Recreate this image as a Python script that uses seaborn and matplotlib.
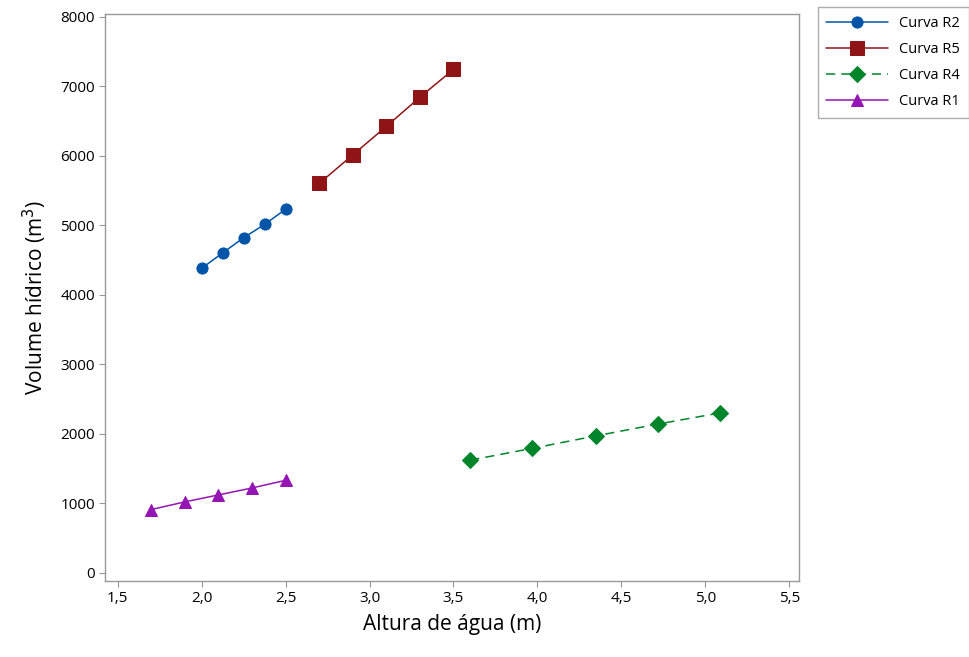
import pandas as pd
import seaborn as sns
import matplotlib.pyplot as plt
from matplotlib.ticker import FuncFormatter

# Curve data
r2_altura = [2.0, 2.125, 2.25, 2.375, 2.5]
r2_volume = [4380, 4600, 4820, 5010, 5230]
r5_altura = [2.7, 2.9, 3.1, 3.3, 3.5]
r5_volume = [5600, 6010, 6420, 6840, 7240]
r4_altura = [3.6, 3.97, 4.35, 4.72, 5.09]
r4_volume = [1620, 1790, 1970, 2140, 2300]
r1_altura = [1.7, 1.9, 2.1, 2.3, 2.5]
r1_volume = [910, 1020, 1120, 1220, 1330]

sns.set_style("white")
plt.rcParams['font.family'] = ['Open Sans', 'DejaVu Sans']
plt.rcParams['text.color'] = 'black'
plt.rcParams['axes.labelcolor'] = 'black'
plt.rcParams['xtick.color'] = 'black'
plt.rcParams['ytick.color'] = 'black'

fig = plt.figure(figsize=(9.7, 6.57), dpi=100)
ax = fig.add_axes([0.108, 0.116, 0.716, 0.862])

curvas = [
    ("Curva R2", r2_altura, r2_volume, "#0055A8", "o", 8, "-"),
    ("Curva R5", r5_altura, r5_volume, "#8E1416", "s", 10, "-"),
    ("Curva R4", r4_altura, r4_volume, "#00852B", "D", 8, (0, (6, 4))),
    ("Curva R1", r1_altura, r1_volume, "#9414B4", "^", 9, "-"),
]

for nome, xs, ys, cor, mk, ms, ls in curvas:
    df = pd.DataFrame({"x": xs, "y": ys})
    sns.lineplot(data=df, x="x", y="y", ax=ax, color=cor, marker=mk, markersize=ms,
                 markeredgecolor=cor, linewidth=1.1, linestyle=ls, label=nome)

ax.set_xlim(1.4225, 5.56)
ax.set_ylim(-115, 8030)
ax.set_xticks([1.5, 2.0, 2.5, 3.0, 3.5, 4.0, 4.5, 5.0, 5.5])
ax.set_yticks(range(0, 8001, 1000))
ax.xaxis.set_major_formatter(FuncFormatter(lambda v, p: f"{v:.1f}".replace(".", ",")))
ax.set_xlabel("Altura de água (m)", fontsize=15, labelpad=6)
ax.set_ylabel("Volume hídrico (m$^3$)", fontsize=15, labelpad=8)
ax.tick_params(axis="both", direction="out", length=4, color="#999999", labelsize=11, pad=3, left=True, bottom=True)
for s in ax.spines.values():
    s.set_color("#999999")
    s.set_linewidth(1)

leg = ax.legend(loc="upper left", bbox_to_anchor=(0.843, 0.989), bbox_transform=fig.transFigure,
                borderaxespad=0, fontsize=10.5, frameon=True, fancybox=False, edgecolor="#999999",
                handlelength=4.2, borderpad=0.6, labelspacing=0.75)
leg.get_frame().set_linewidth(1)

fig.savefig("out.png", dpi=100)
